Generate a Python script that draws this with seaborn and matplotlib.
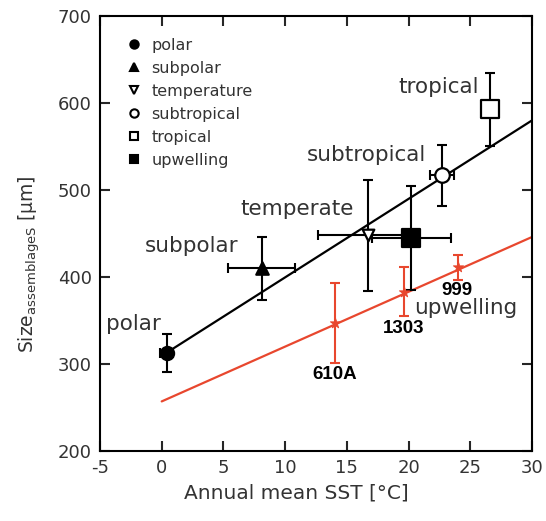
import matplotlib
matplotlib.use("Agg")
import matplotlib.pyplot as plt
from matplotlib.lines import Line2D
import seaborn as sns
import pandas as pd

# ---- data ----
assemblages = ["polar", "subpolar", "temperate", "subtropical", "tropical", "upwelling"]
sst = [0.4, 8.1, 16.7, 22.7, 26.6, 20.2]
sst_err = [0.5, 2.7, 4.0, 1.0, 0.5, 3.2]
size = [313, 410, 448, 517, 593, 445]
size_err = [22, 36, 64, 35, 42, 60]

legend_labels = ["polar", "subpolar", "temperature", "subtropical", "tropical", "upwelling"]

sites = ["610A", "1303", "999"]
site_sst = [14.0, 19.6, 24.0]
site_size = [347, 383, 411]
site_err = [46, 28, 14]

black_line_x = [0.4, 30]
black_line_y = [313, 580]
red_line_x = [0, 30]
red_line_y = [257, 446]

x_ticks = [-5, 0, 5, 10, 15, 20, 25, 30]
y_ticks = [200, 300, 400, 500, 600, 700]

# ---- styling ----
sns.set_style("ticks")
plt.rcParams["font.family"] = ["DejaVu Sans"]
plt.rcParams["axes.unicode_minus"] = False
RED = "#e8472e"
TXT = "#333333"

fig = plt.figure(figsize=(5.46, 5.21), dpi=100)
ax = fig.add_axes([100 / 546, 1 - 451 / 521, 432 / 546, 435 / 521])

df = pd.DataFrame({"sst": sst, "size": size, "group": assemblages})
sdf = pd.DataFrame({"sst": site_sst, "size": site_size, "site": sites})

# regression lines
sns.lineplot(x=black_line_x, y=black_line_y, ax=ax, color="black", lw=1.6, zorder=2)
sns.lineplot(x=red_line_x, y=red_line_y, ax=ax, color=RED, lw=1.6, zorder=2)

# error bars
ax.errorbar(sst, size, xerr=sst_err, yerr=size_err, fmt="none", ecolor="black",
            elinewidth=1.5, capsize=3.5, capthick=1.5, zorder=3)
ax.errorbar(site_sst, site_size, yerr=site_err, fmt="none", ecolor=RED,
            elinewidth=1.5, capsize=3.5, capthick=1.5, zorder=3)

# markers
marker_map = {"polar": "o", "subpolar": "^", "temperate": "v",
              "subtropical": "o", "tropical": "s", "upwelling": "s"}
face_map = {"polar": "black", "subpolar": "black", "temperate": "white",
            "subtropical": "white", "tropical": "white", "upwelling": "black"}
size_map = {"polar": 90, "subpolar": 80, "temperate": 70,
            "subtropical": 110, "tropical": 150, "upwelling": 150}
for g in assemblages:
    sub = df[df["group"] == g]
    sns.scatterplot(data=sub, x="sst", y="size", ax=ax, marker=marker_map[g],
                    color=face_map[g], edgecolor="black", linewidth=1.6,
                    s=size_map[g], zorder=5, legend=False)

sns.scatterplot(data=sdf, x="sst", y="size", ax=ax, marker="*", color=RED,
                edgecolor=RED, s=60, zorder=5, legend=False)

# point labels
label_pos = {"polar": (-2.3, 346), "subpolar": (2.4, 436), "temperate": (11.0, 478),
             "subtropical": (16.6, 540), "tropical": (22.4, 618), "upwelling": (24.6, 364)}
for g in assemblages:
    lx, ly = label_pos[g]
    ax.text(lx, ly, g, ha="center", va="center", fontsize=15.5, color=TXT, zorder=6)

site_label_pos = {"610A": (14.0, 288), "1303": (19.6, 341), "999": (23.9, 385)}
for s in sites:
    lx, ly = site_label_pos[s]
    ax.text(lx, ly, s, ha="center", va="center", fontsize=13.5, fontweight="bold",
            color="black", family=["Liberation Sans", "DejaVu Sans"], zorder=6)

# legend
handles = []
for g, lab in zip(assemblages, legend_labels):
    handles.append(Line2D([], [], linestyle="none", marker=marker_map[g],
                          markerfacecolor=face_map[g], markeredgecolor="black",
                          markeredgewidth=1.5, markersize=6, label=lab))
ax.legend(handles=handles, loc="upper left", bbox_to_anchor=(0.045, 0.965),
          frameon=False, fontsize=11.5, handlelength=1.0, handletextpad=0.6,
          labelspacing=0.5, labelcolor=TXT, borderaxespad=0)

# axes
ax.set_xlim(-5, 30)
ax.set_ylim(200, 700)
ax.set_xticks(x_ticks)
ax.set_yticks(y_ticks)
ax.tick_params(direction="in", length=7, width=1.5, top=True, right=True,
               labelsize=13, labelcolor=TXT, pad=6)
for sp in ax.spines.values():
    sp.set_visible(True)
    sp.set_linewidth(1.5)
    sp.set_color("black")
ax.set_xlabel("Annual mean SST [°C]", fontsize=14.5, color=TXT)
ax.xaxis.set_label_coords(0.455, -0.075)
ax.set_ylabel(r"Size$_{\mathregular{assemblageS}}$ [µm]", fontsize=13.5, color=TXT)
ax.yaxis.set_label_coords(-0.135, 0.43)

fig.savefig("out.png", dpi=100)
